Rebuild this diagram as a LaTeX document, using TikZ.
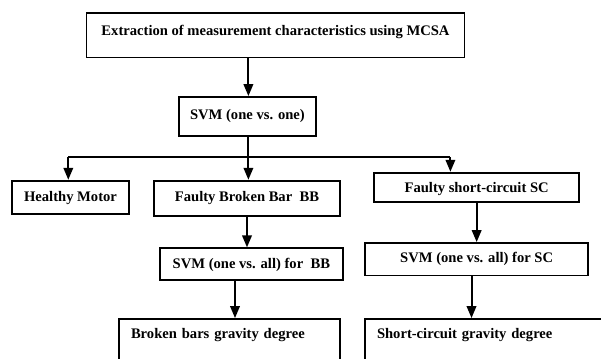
\documentclass[tikz,border=0pt]{standalone}
\usepackage{fontspec}
\setmainfont{Liberation Serif}
\usetikzlibrary{arrows.meta}
\begin{document}
\begin{tikzpicture}[x=1pt,y=-1pt,
  box/.style={draw, line width=1.8pt, rectangle, inner ysep=0pt, inner xsep=0pt,
    minimum height=0pt, anchor=base, font=\fontsize{14.6}{17}\selectfont\bfseries},
  lbox/.style={box, inner xsep=12pt, align=left},
  conn/.style={line width=2pt},
  arr/.style={conn, -{Triangle[length=12pt,width=9.5pt]}}]
\useasboundingbox (0,0) rectangle (601,358);
\clip (0,0) rectangle (601,358);
\fill[white] (0,0) rectangle (601,358);
\node[box, minimum width=377.9pt, text height=22.1pt, text depth=22pt] (top) at (275.5,35.5)
  {Extraction of measurement characteristics using MCSA};
\node[box, minimum width=137.6pt, text height=23pt, text depth=16pt] (svm1) at (247.4,120)
  {SVM (one vs. one)};
\node[box, minimum width=117.6pt, text height=20.8pt, text depth=12.8pt] (healthy) at (70.5,201.5)
  {Healthy Motor};
\node[box, minimum width=186pt, text height=20.8pt, text depth=14.5pt] (bb) at (247,201.5)
  {Faulty Broken Bar\ \ BB};
\node[box, minimum width=204.7pt, text height=19.8pt, text depth=9.8pt] (sc) at (476.65,192.5)
  {Faulty short-circuit SC};
\node[box, minimum width=182.7pt, text height=20pt, text depth=11.7pt] (svmbb) at (251.35,268.3)
  {SVM (one vs. all) for\ \ BB};
\node[box, minimum width=223.3pt, text height=19pt, text depth=13.5pt] (svmsc) at (476.65,262)
  {SVM (one vs. all) for SC};
\node[lbox, text width=197pt, text height=19pt, text depth=60pt] (broken) at (229.5,338)
  {Broken bars gravity degree};
\node[lbox, text width=236pt, text height=19.5pt, text depth=60pt] (short) at (495,338.5)
  {Short-circuit gravity degree};
\coordinate (busL) at (68.3,157);
\coordinate (busR) at (450.4,157);
\draw[arr] (top.south -| 248.4,0) -- (248.4,0 |- svm1.north);
\draw[arr] (248.4,0 |- svm1.south) -- (248.4,0 |- bb.north);
\draw[conn] (busL) -- (busR);
\draw[arr] (busL) -- (busL |- healthy.north);
\draw[arr] (busR) -- (busR |- sc.north);
\draw[arr] (bb.south) -- (bb.south |- svmbb.north);
\draw[arr] ([xshift=-16.35pt]svmbb.south) -- ([xshift=-16.35pt]svmbb.south |- broken.north);
\draw[arr] (sc.south) -- (sc.south |- svmsc.north);
\draw[arr] ([xshift=-5.15pt]svmsc.south) -- ([xshift=-5.15pt]svmsc.south |- short.north);
\end{tikzpicture}
\end{document}
